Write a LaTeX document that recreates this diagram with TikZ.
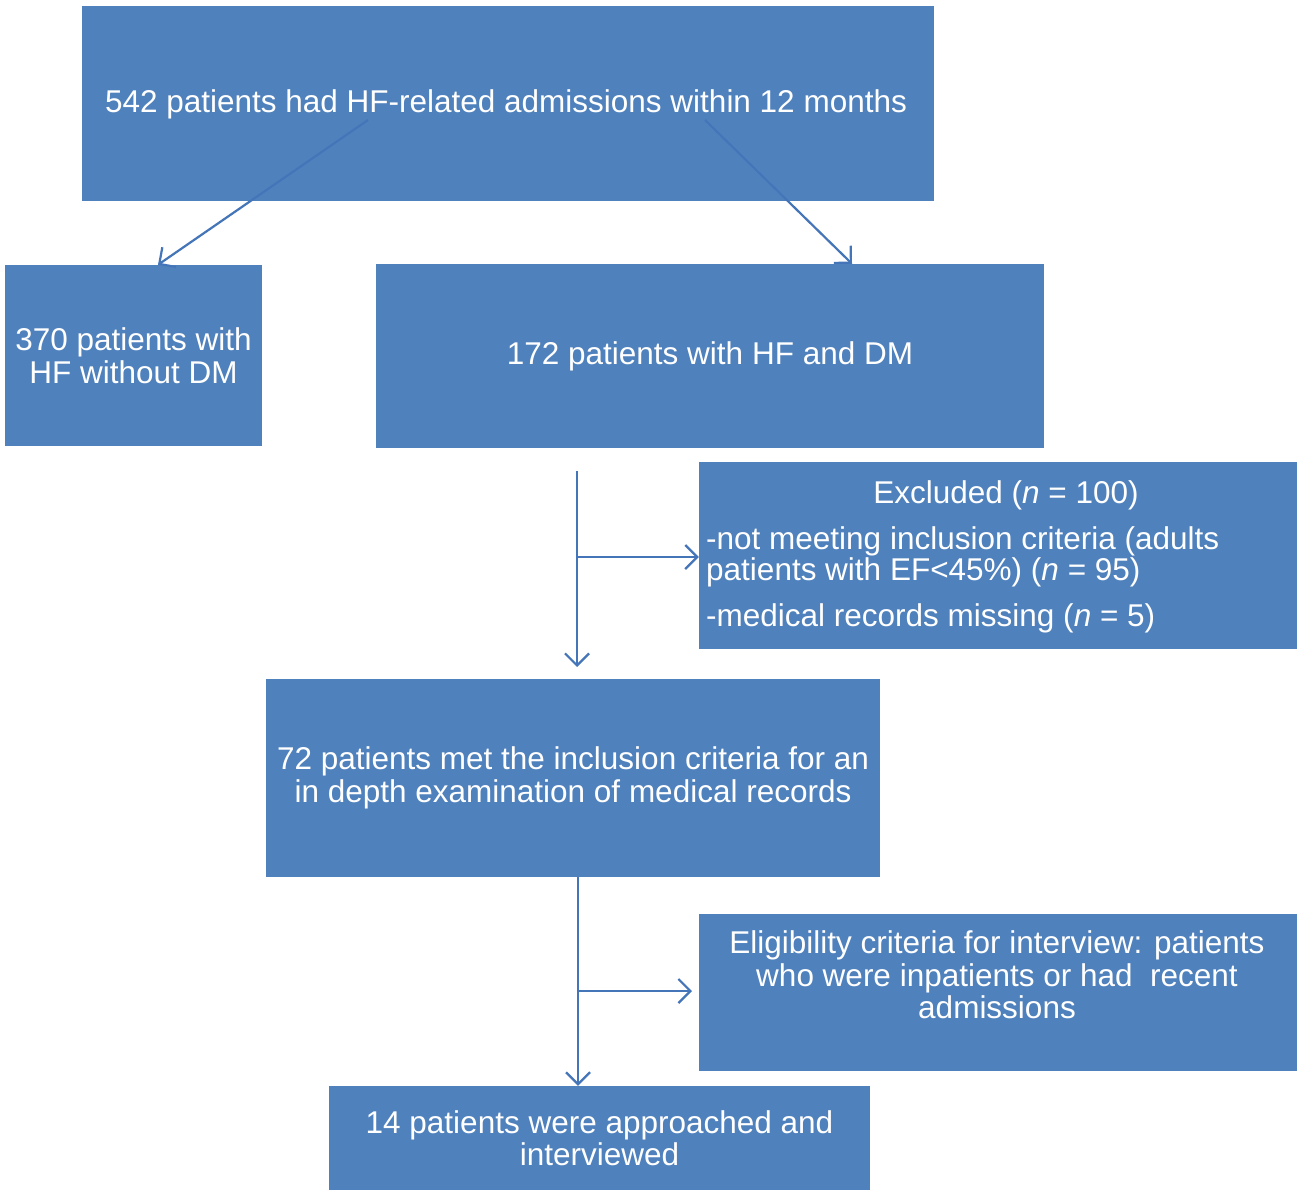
\documentclass[tikz,border=0pt]{standalone}
\usepackage{fontspec}
\setmainfont{Liberation Sans}
\usetikzlibrary{arrows.meta}
\definecolor{boxblue}{RGB}{79,129,189}
\definecolor{lineblue}{RGB}{69,117,185}
\newcommand{\fsz}{\fontsize{31.5}{32.5}\selectfont}
\tikzset{
  box/.style={fill=boxblue, draw=none, text=white, align=center, inner sep=0pt, font=\fsz},
  txt/.style={text=white, inner sep=0pt, font=\fsz},
  conn/.style={draw=lineblue, line width=2.2pt, -{Straight Barb[length=12pt,width=24pt]}},
  plain/.style={draw=lineblue, line width=2.2pt}
}
\begin{document}
\begin{tikzpicture}[x=1pt,y=-1pt]
\useasboundingbox (0,0) rectangle (1303,1196);
\fill[white] (0,0) rectangle (1303,1196);

\node[box, minimum width=852pt, minimum height=195pt] (top) at (508,103.5) {};
\node[txt, anchor=base] (toptxt) at (506,113) {542 patients had HF-related admissions within 12 months};
\node[box, minimum width=257pt, minimum height=181pt] (left) at (133.5,355.5)
  {370 patients with\\HF without DM};
\node[box, minimum width=668pt, minimum height=184pt] (mid) at (710,356)
  {172 patients with HF and DM};
\node[box, minimum width=598pt, minimum height=187pt] (excl) at (998,555.5) {};
\node[txt, anchor=base] (exh) at (1006,503.5) {Excluded (\textit{n} = 100)};
\node[txt, anchor=base west] (ex1) at (706,549.5) {-not meeting inclusion criteria (adults};
\node[txt, anchor=base west] (ex2) at (706,580.5) {patients with EF<45\%) (\textit{n} = 95)};
\node[txt, anchor=base west] (ex3) at (706,626) {-medical records missing (\textit{n} = 5)};
\node[box, minimum width=614pt, minimum height=198pt] (m72) at (573,778)
  {72 patients met the inclusion criteria for an\\in depth examination of medical records};
\node[box, minimum width=598pt, minimum height=157pt] (elig) at (998,992.5) {};
\node[txt, anchor=base] (el1) at (997,953) {Eligibility criteria for interview: patients};
\node[txt, anchor=base] (el2) at (997,986) {who were inpatients or had\ \ recent};
\node[txt, anchor=base] (el3) at (997,1018.5) {admissions};
\node[box, minimum width=541pt, minimum height=104pt] (b14) at (599.5,1138)
  {14 patients were approached and\\interviewed};

% connectors from the top box
\coordinate (tl) at (368,120);
\coordinate (tr) at (705,120);
\draw[conn] (tl) -- ([xshift=24.5pt]left.north);
\draw[conn] (tr) -- ([xshift=142pt]mid.north);

% first vertical with branch
\coordinate (v1a) at (577,471);
\coordinate (v1b) at (577,667);
\coordinate (v1m) at (577,557);
\draw[conn] (v1a) -- (v1b);
\draw[conn] (v1m) -- (excl.west |- v1m);

% second vertical with branch
\coordinate (v2a) at (578,877);
\coordinate (v2m) at (578,991);
\coordinate (e2) at (692,991);
\draw[conn] (v2a) -- (b14.north -| v2a);
\draw[conn] (v2m) -- (e2);
\end{tikzpicture}
\end{document}
